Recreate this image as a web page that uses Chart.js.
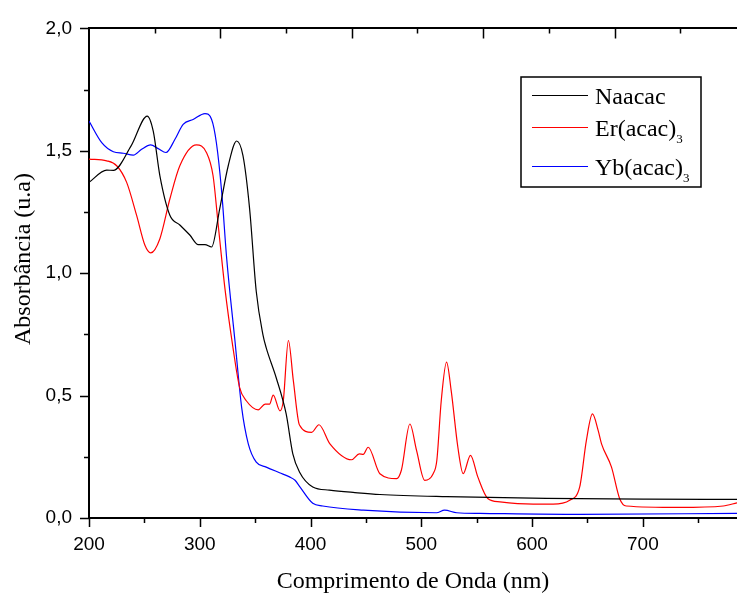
<!DOCTYPE html>
<html>
<head>
<meta charset="utf-8">
<script src="https://cdn.jsdelivr.net/npm/chart.js@4"></script>
<style>
  body { margin: 0; background: #fff; }
  #wrap { width: 737px; height: 594px; position: relative; }
</style>
</head>
<body>
<div id="wrap"><canvas id="chart"></canvas></div>
<script>
// ─── DATA ──────────────────────────────────────────────────────────
const naX = [200, 216, 222, 238, 252.6, 258, 264, 273, 282, 291, 298.6, 304.7, 310.7, 318, 325.7, 333.3, 339, 345, 351, 357, 360, 369, 378, 384, 390, 402, 417, 440, 462.6, 522.8, 613, 703, 785];
const naY = [1.371, 1.421, 1.42, 1.52, 1.642, 1.58, 1.398, 1.237, 1.197, 1.156, 1.117, 1.117, 1.107, 1.263, 1.439, 1.540, 1.48, 1.263, 0.925, 0.749, 0.695, 0.573, 0.425, 0.262, 0.188, 0.127, 0.114, 0.104, 0.096, 0.087, 0.080, 0.077, 0.076];

const erX = [200, 216, 225, 234, 243, 250.5, 255.7, 264, 273, 282, 297, 306, 312, 316.7, 322.7, 330, 336, 342, 352.8, 359, 363, 366.3, 372.4, 375.4, 380, 384.5, 390, 401, 407.6, 417.5, 437, 444, 447.6, 452, 462.6, 477.7, 482, 489.7, 495.7, 503, 510.7, 514, 518, 522.8, 527, 533, 537.8, 544.4, 551, 560, 571, 601, 619, 634, 643, 649, 654.5, 659.7, 662.7, 671.7, 679, 685, 733, 772.5, 785];
const erY = [1.466, 1.459, 1.439, 1.371, 1.236, 1.114, 1.083, 1.141, 1.303, 1.439, 1.524, 1.493, 1.398, 1.195, 0.938, 0.695, 0.533, 0.479, 0.442, 0.465, 0.465, 0.502, 0.438, 0.479, 0.725, 0.560, 0.380, 0.350, 0.381, 0.303, 0.238, 0.262, 0.260, 0.289, 0.181, 0.161, 0.195, 0.384, 0.276, 0.154, 0.181, 0.235, 0.479, 0.637, 0.519, 0.289, 0.181, 0.256, 0.168, 0.080, 0.066, 0.057, 0.057, 0.073, 0.127, 0.316, 0.425, 0.357, 0.303, 0.208, 0.080, 0.049, 0.043, 0.049, 0.062];

const ybX = [200, 211.5, 222, 231, 240, 247.5, 255.6, 262.5, 269.5, 277.6, 285, 294, 304.7, 310.7, 315, 319.8, 324.3, 331.8, 337.8, 343.8, 351, 360, 372, 381, 386, 390.4, 402, 411, 447.6, 513.7, 521, 532, 553, 643, 785];
const ybY = [1.621, 1.533, 1.496, 1.49, 1.482, 1.506, 1.524, 1.509, 1.493, 1.547, 1.608, 1.628, 1.652, 1.628, 1.533, 1.331, 1.060, 0.722, 0.452, 0.303, 0.228, 0.208, 0.185, 0.168, 0.154, 0.127, 0.060, 0.049, 0.032, 0.0215, 0.032, 0.0215, 0.019, 0.015, 0.019];

const seriesNames = ['Naacac', 'Er(acac)', 'Yb(acac)'];
const seriesSubs  = ['', '3', '3'];
const seriesColors = ['#000000', '#ff0000', '#0000ff'];

const xTicks = [200, 300, 400, 500, 600, 700];
const yTicks = [0, 0.5, 1.0, 1.5, 2.0];

// ─── HELPERS ───────────────────────────────────────────────────────
const SANS = "'Liberation Sans', Arial, sans-serif";
const SERIF = "'Liberation Serif', 'Times New Roman', serif";

function toPoints(xs, ys) {
    return xs.map((x, i) => ({ x: x, y: ys[i] }));
}

function makeSet(i, xs, ys) {
    return {
        label: seriesNames[i],
        data: toPoints(xs, ys),
        borderColor: seriesColors[i],
        borderWidth: 1.2,
        pointRadius: 0,
        fill: false,
        cubicInterpolationMode: 'monotone'
    };
}

// ticks (major + minor) and custom legend / y title
const decorPlugin = {
    id: 'decor',
    afterDraw(chart) {
        const ctx = chart.ctx;
        const { x, x2, y } = chart.scales;
        const area = chart.chartArea;
        ctx.save();
        ctx.strokeStyle = '#000';
        ctx.lineWidth = 1.5;
        ctx.beginPath();
        for (let v = 0; v <= 2.0001; v += 0.25) {
            const py = Math.round(y.getPixelForValue(v)) + 0.5;
            const len = Math.abs(v / 0.5 - Math.round(v / 0.5)) < 1e-6 ? 9 : 5;
            ctx.moveTo(area.left - len, py); ctx.lineTo(area.left, py);
        }
        for (let v = 200; v <= 785; v += 50) {
            const px = Math.round(x.getPixelForValue(v)) + 0.5;
            const len = v % 100 === 0 ? 9 : 5;
            ctx.moveTo(px, area.bottom); ctx.lineTo(px, area.bottom + len);
        }
        for (let v = 0.5; v <= x2.max; v += 0.5) {
            const px = Math.round(x2.getPixelForValue(v)) + 0.5;
            const len = Number.isInteger(v) ? 10 : 5;
            ctx.moveTo(px, area.top); ctx.lineTo(px, area.top + len);
        }
        ctx.stroke();

        // y title
        ctx.fillStyle = '#000';
        ctx.font = '24px ' + SERIF;
        ctx.textAlign = 'center';
        ctx.textBaseline = 'middle';
        ctx.save();
        ctx.translate(23.5, 259);
        ctx.rotate(-Math.PI / 2);
        ctx.fillText('Absorbância (u.a)', 0, 0);
        ctx.restore();

        // legend box
        ctx.lineWidth = 1.5;
        ctx.strokeRect(521, 77, 180, 110);
        const rows = [[95, 104], [127, 136], [166, 175]];
        chart.data.datasets.forEach((ds, i) => {
            const [ly, by] = rows[i];
            ctx.strokeStyle = ds.borderColor;
            ctx.lineWidth = 1.2;
            ctx.beginPath();
            ctx.moveTo(532, ly + 0.5); ctx.lineTo(588, ly + 0.5);
            ctx.stroke();
            ctx.fillStyle = '#000';
            ctx.textAlign = 'left';
            ctx.textBaseline = 'alphabetic';
            ctx.font = '24px ' + SERIF;
            ctx.fillText(ds.label, 595, by);
            if (seriesSubs[i]) {
                const w = ctx.measureText(ds.label).width;
                ctx.font = '13px ' + SERIF;
                ctx.fillText(seriesSubs[i], 595 + w, by + 7);
            }
        });
        ctx.restore();
    }
};

// ─── CHART ─────────────────────────────────────────────────────────
new Chart(document.getElementById('chart'), {
    type: 'line',
    data: {
        datasets: [
            makeSet(0, naX, naY),
            makeSet(1, erX, erY),
            makeSet(2, ybX, ybY)
        ]
    },
    options: {
        responsive: true, maintainAspectRatio: false, animation: false,
        layout: { padding: 0 },
        plugins: { legend: { display: false }, tooltip: { enabled: false } },
        scales: {
            x: {
                type: 'linear', position: 'bottom', min: 200, max: 785,
                afterBuildTicks: s => { s.ticks = xTicks.map(v => ({ value: v })); },
                afterFit: s => { s.height = 76; },
                ticks: { color: '#000', font: { family: SANS, size: 19 }, padding: 15, maxRotation: 0, autoSkip: false },
                grid: { display: false, drawTicks: false },
                border: { display: true, color: '#000', width: 2 },
                title: { display: true, text: 'Comprimento de Onda (nm)', color: '#000',
                         font: { family: SERIF, size: 24, lineHeight: 1 }, padding: 0 }
            },
            x2: {
                type: 'linear', position: 'top', min: 0, max: 4.932,
                afterFit: s => { s.height = 25; },
                ticks: { display: false },
                grid: { display: false, drawTicks: false },
                border: { display: true, color: '#000', width: 2 }
            },
            y: {
                type: 'linear', position: 'left', min: 0, max: 2,
                afterBuildTicks: s => { s.ticks = yTicks.map(v => ({ value: v })); },
                afterFit: s => { s.width = 89; },
                ticks: { color: '#000', font: { family: SANS, size: 19 }, padding: 17,
                         callback: v => v.toFixed(1).replace('.', ',') },
                grid: { display: false, drawTicks: false },
                border: { display: true, color: '#000', width: 2 }
            }
        }
    },
    plugins: [decorPlugin]
});
</script>
</body>
</html>
